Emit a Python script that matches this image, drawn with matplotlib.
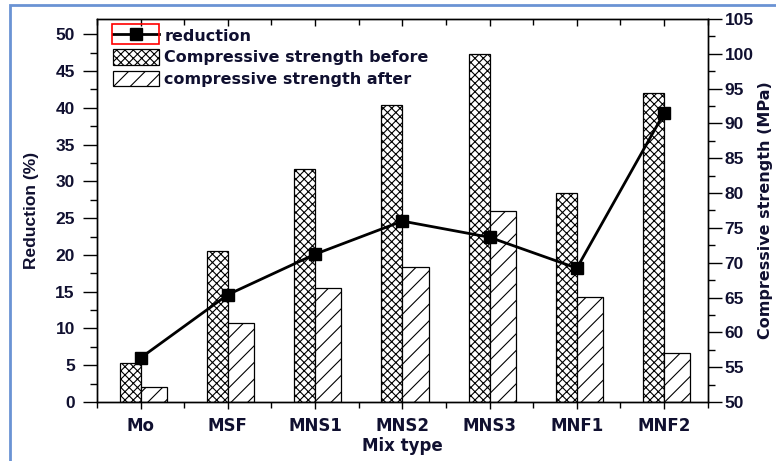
import numpy as np
import matplotlib
matplotlib.use("Agg")
import matplotlib.pyplot as plt
from matplotlib.patches import Rectangle, Patch
from matplotlib.lines import Line2D

plt.rcParams['font.family'] = ['Liberation Sans', 'DejaVu Sans']
plt.rcParams['font.weight'] = 'bold'
plt.rcParams['hatch.linewidth'] = 0.8

mixes = ['Mo', 'MSF', 'MNS1', 'MNS2', 'MNS3', 'MNF1', 'MNF2']
reduction = [6.0, 14.6, 20.1, 24.6, 22.4, 18.2, 39.3]
strength_before = [55.6, 71.7, 83.4, 92.6, 99.9, 80.0, 94.4]
strength_after = [52.1, 61.3, 66.4, 69.4, 77.4, 65.1, 57.1]

x = np.arange(len(mixes))
txt = '#101030'
wide = ['DejaVu Sans']

fig = plt.figure(figsize=(7.76, 4.61), dpi=100)
ax = fig.add_axes([0.125, 0.128, 0.787, 0.831])
ax2 = ax.twinx()

# bars on the right (strength) axis
base = 50
ax2.bar(x - 0.24, np.array(strength_before) - base, width=0.24, bottom=base,
        align='edge', facecolor='white', edgecolor='black', linewidth=0.9,
        hatch='xxxx')
ax2.bar(x, np.array(strength_after) - base, width=0.30, bottom=base,
        align='edge', facecolor='white', edgecolor='black', linewidth=0.9,
        hatch='//')
ax2.set_ylim(50, 105)
ax2.set_yticks(np.arange(50, 106, 5))
ax2.set_yticks(np.arange(52.5, 105, 5), minor=True)
ax2.set_ylabel('Compressive strength (MPa)', family=wide, fontsize=11.5,
               fontweight='bold', color=txt, labelpad=3)

# reduction line on the left axis, drawn above the bars
ax.set_zorder(ax2.get_zorder() + 1)
ax.patch.set_visible(False)
ax.plot(x, reduction, '-s', color='black', lw=2, markersize=8)
ax.set_ylim(0, 52.1)
ax.set_yticks(np.arange(0, 51, 5))
ax.set_yticks(np.arange(2.5, 50, 5), minor=True)
ax.set_xlim(-0.5, 6.5)
ax.set_xticks(x)
ax.set_xticklabels(mixes, family=wide, fontsize=12, fontweight='bold')
ax.set_xticks(np.arange(-0.5, 6.6, 1), minor=True)
ax.set_ylabel('Reduction (%)', fontsize=12.5, fontweight='bold', color=txt, labelpad=12)
ax.set_xlabel('Mix type', family=wide, fontsize=12, fontweight='bold', color=txt,
              labelpad=1)

for a in (ax, ax2):
    for s in a.spines.values():
        s.set_linewidth(1.0)
ax.tick_params(axis='y', which='major', direction='out', length=10, width=1,
               labelsize=12.5, labelcolor=txt, pad=6)
ax.tick_params(axis='y', which='minor', direction='out', length=5, width=1)
ax.tick_params(axis='x', which='major', direction='out', length=5, width=1,
               labelcolor=txt, pad=6, top=True)
ax.tick_params(axis='x', which='minor', direction='out', length=4, width=1, top=True)
ax2.tick_params(axis='y', which='major', direction='out', length=10, width=1,
                labelsize=12.5, labelcolor=txt, pad=2)
ax2.tick_params(axis='y', which='minor', direction='out', length=5, width=1)
for t in ax.xaxis.get_major_ticks() + ax.xaxis.get_minor_ticks():
    t.tick2line.set_marker(3)  # top ticks point inward
for t in ax.xaxis.get_minor_ticks():
    t.tick2line.set_markersize(4)
for t in ax.xaxis.get_major_ticks():
    t.tick2line.set_markersize(5)

handles = [
    Line2D([], [], color='black', lw=2, marker='s', markersize=8),
    Patch(facecolor='white', edgecolor='black', hatch='xxxx', linewidth=0.9),
    Patch(facecolor='white', edgecolor='black', hatch='//', linewidth=0.9),
]
labels = ['reduction', 'Compressive strength before', 'compressive strength after']
leg = ax.legend(handles, labels, loc='upper left', bbox_to_anchor=(0.012, 1.0),
                frameon=False, prop={'family': wide, 'size': 11.5, 'weight': 'bold'},
                handlelength=2.9, handleheight=1.1,
                handletextpad=0.3, labelspacing=0.35, borderaxespad=0.15)
for t in leg.get_texts():
    t.set_color(txt)

# red selection box around the first legend key and the outer blue frame
fig.patches.append(Rectangle((112 / 776, 1 - 44 / 461), 47 / 776, 20 / 461,
                             transform=fig.transFigure, fill=False,
                             edgecolor='red', lw=1.2))
fig.patches.append(Rectangle((10 / 776, -0.05), 1.2, 1 - 5 / 461 + 0.05,
                             transform=fig.transFigure, fill=False,
                             edgecolor='#6a93d4', lw=2))

fig.savefig('out.png', dpi=100)
